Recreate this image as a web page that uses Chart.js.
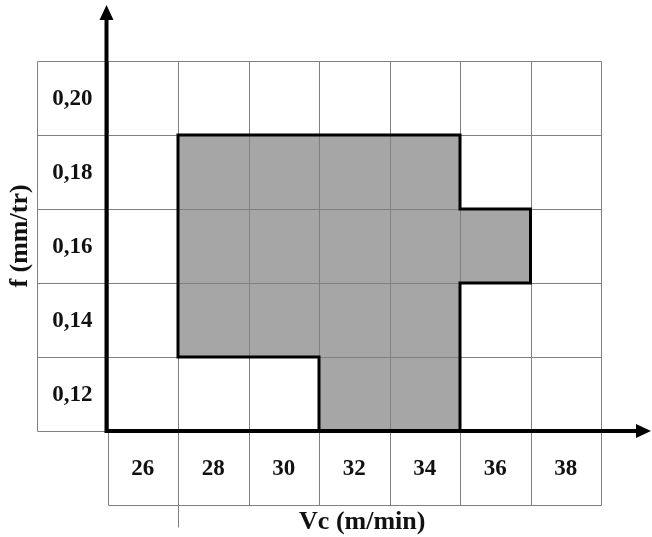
<!DOCTYPE html>
<html><head><meta charset="utf-8">
<script src="https://cdn.jsdelivr.net/npm/chart.js@4/dist/chart.umd.min.js"></script>
<style>html,body{margin:0;padding:0;background:#fff;}#wrap{width:652px;height:537px;position:relative;}canvas{display:block;}</style>
</head><body><div id="wrap"><canvas id="c" width="652" height="537" style="width:652px;height:537px"></canvas></div>
<script>
// Column (cutting speed) and row (feed) categories
const speedLabels = ['26', '28', '30', '32', '34', '36', '38'];
const feedLabels = ['0,12', '0,14', '0,16', '0,18', '0,20'];
// Feasible (shaded) cells, as parallel lists: speed / feed
const feasibleSpeed = ['32', '34',
                       '28', '30', '32', '34',
                       '28', '30', '32', '34', '36',
                       '28', '30', '32', '34'];
const feasibleFeed  = ['0,12', '0,12',
                       '0,14', '0,14', '0,14', '0,14',
                       '0,16', '0,16', '0,16', '0,16', '0,16',
                       '0,18', '0,18', '0,18', '0,18'];
const xTitle = 'Vc (m/min)';
const yTitle = 'f (mm/tr)';

// Build cells from the lists
const cells = feasibleSpeed.map((s, i) => ({c: speedLabels.indexOf(s), r: feedLabels.indexOf(feasibleFeed[i])}));
const cellSet = new Set(cells.map(o => o.c + ':' + o.r));
const barData = cells.map(o => ({x: o.c + 0.5, y: [o.r, o.r + 1]}));
const outline = [];
cells.forEach(o => {
  const {c, r} = o;
  if (!cellSet.has(c + ':' + (r - 1))) outline.push({x: c, y: r}, {x: c + 1, y: r}, {x: c, y: null});
  if (!cellSet.has(c + ':' + (r + 1))) outline.push({x: c, y: r + 1}, {x: c + 1, y: r + 1}, {x: c, y: null});
  if (!cellSet.has((c - 1) + ':' + r)) outline.push({x: c, y: r}, {x: c, y: r + 1}, {x: c, y: null});
  if (!cellSet.has((c + 1) + ':' + r)) outline.push({x: c + 1, y: r}, {x: c + 1, y: r + 1}, {x: c, y: null});
});

const FONT = 'bold 23px "Liberation Serif", "Times New Roman", serif';
const TITLE_FONT = 'bold 26px "Liberation Serif", "Times New Roman", serif';
const GRID = '#808080';

const tablePlugin = {
  id: 'table',
  afterDatasetDraw(chart, args) {
    if (args.meta.type !== 'bar') return;
    const ctx = chart.ctx, xs = chart.scales.x, ys = chart.scales.y;
    const X = v => Math.round(xs.getPixelForValue(v)) + 0.5;
    const Y = v => Math.round(ys.getPixelForValue(v)) + 0.5;
    const nC = speedLabels.length, nR = feedLabels.length;
    ctx.save();
    ctx.strokeStyle = GRID; ctx.lineWidth = 1;
    ctx.beginPath();
    for (let c = 0; c <= nC; c++) { ctx.moveTo(X(c), Y(-1)); ctx.lineTo(X(c), Y(nR)); }
    ctx.moveTo(X(-1), Y(0)); ctx.lineTo(X(-1), Y(nR));
    for (let r = 0; r <= nR; r++) { ctx.moveTo(X(-1), Y(r)); ctx.lineTo(X(nC), Y(r)); }
    ctx.moveTo(X(0), Y(-1)); ctx.lineTo(X(nC), Y(-1));
    // small stub below the second column boundary
    ctx.moveTo(X(1), Y(-1)); ctx.lineTo(X(1), Y(-1) + 22);
    ctx.stroke();
    ctx.restore();
  },
  afterDraw(chart) {
    const ctx = chart.ctx, xs = chart.scales.x, ys = chart.scales.y;
    const X = v => xs.getPixelForValue(v);
    const Y = v => ys.getPixelForValue(v);
    ctx.save();
    ctx.fillStyle = '#111';
    ctx.font = FONT;
    ctx.textAlign = 'center'; ctx.textBaseline = 'middle';
    feedLabels.forEach((t, r) => ctx.fillText(t, X(-0.5), Y(r + 0.5) + 1));
    speedLabels.forEach((t, c) => ctx.fillText(t, X(c + 0.5), Y(-0.5) + 1));
    // axis titles
    ctx.font = TITLE_FONT;
    ctx.fillText(xTitle, (X(0) + X(speedLabels.length)) / 2 + 8, Y(-1) + 17);
    ctx.save();
    ctx.translate(20, (Y(0) + Y(feedLabels.length)) / 2 - 10);
    ctx.rotate(-Math.PI / 2);
    ctx.fillText(yTitle, 0, 0);
    ctx.restore();
    // axes with arrows
    const ox = X(0) - 1, oy = Y(0);
    ctx.strokeStyle = '#000'; ctx.fillStyle = '#000'; ctx.lineWidth = 4; ctx.lineCap = 'butt';
    ctx.beginPath();
    ctx.moveTo(ox, oy + 2); ctx.lineTo(ox, 16);
    ctx.moveTo(ox - 2, oy); ctx.lineTo(chart.width - 12, oy);
    ctx.stroke();
    ctx.beginPath();
    ctx.moveTo(ox, 5); ctx.lineTo(ox - 7, 20); ctx.lineTo(ox + 7, 20); ctx.closePath();
    ctx.moveTo(chart.width - 1, oy); ctx.lineTo(chart.width - 16, oy - 7); ctx.lineTo(chart.width - 16, oy + 7); ctx.closePath();
    ctx.fill();
    ctx.restore();
  }
};

new Chart(document.getElementById('c'), {
  type: 'bar',
  data: {
    datasets: [
      {
        type: 'line', order: 1, data: outline,
        borderColor: '#000', borderWidth: 3, borderCapStyle: 'square', borderJoinStyle: 'miter',
        pointRadius: 0, fill: false, spanGaps: false, tension: 0, clip: false
      },
      {
        type: 'bar', order: 2, data: barData,
        backgroundColor: '#a6a6a6', borderWidth: 0,
        barPercentage: 1, categoryPercentage: 1, grouped: false
      }
    ]
  },
  options: {
    responsive: false,
    animation: false,
    events: [],
    layout: {padding: {left: 37, top: 61, right: 51, bottom: 32}},
    plugins: {legend: {display: false}, tooltip: {enabled: false}},
    scales: {
      x: {type: 'linear', offset: false, min: -1, max: 7, display: false, ticks: {stepSize: 1}},
      y: {type: 'linear', offset: false, min: -1, max: 5, display: false, ticks: {stepSize: 1}}
    }
  },
  plugins: [tablePlugin]
});
</script>
</body></html>
